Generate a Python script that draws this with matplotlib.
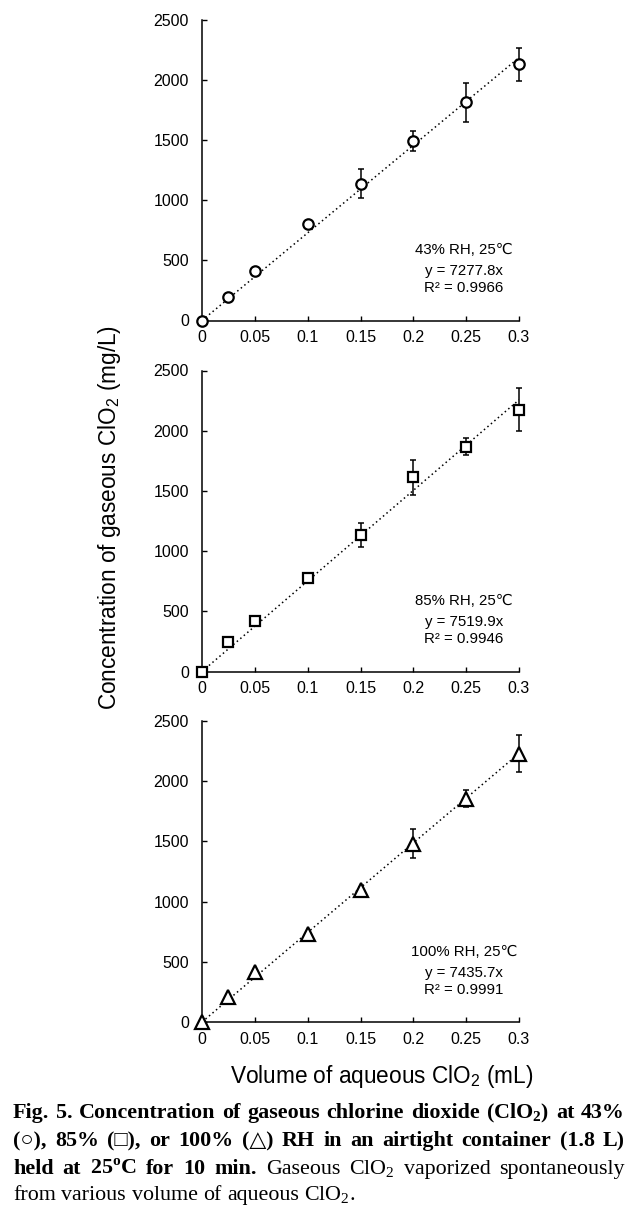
# -*- coding: utf-8 -*-
# Concentración de ClO2 gaseoso vs volumen de ClO2 acuoso (tres humedades)
import numpy as np
import matplotlib
matplotlib.use("Agg")
import matplotlib.pyplot as plt

# Datos
vol = [0, 0.025, 0.05, 0.1, 0.15, 0.2, 0.25, 0.3]
conc_43 = [0, 195, 408, 800, 1135, 1490, 1812, 2128]
err_43 = [0, 10, 25, 15, 120, 80, 160, 135]
conc_85 = [0, 246, 418, 775, 1134, 1614, 1868, 2175]
err_85 = [0, 10, 15, 25, 100, 145, 72, 178]
conc_100 = [0, 208, 416, 729, 1097, 1480, 1856, 2228]
err_100 = [0, 10, 15, 20, 25, 120, 70, 152]

pendientes = [7277.8, 7519.9, 7435.7]
r2 = ["0.9966", "0.9946", "0.9991"]
humedad = ["43%", "85%", "100%"]
marcadores = ["o", "s", "^"]
tam_marcador = [7.5, 7.2, 9.5]

x_ticks = [0, 0.05, 0.1, 0.15, 0.2, 0.25, 0.3]
x_etiquetas = ["0", "0.05", "0.1", "0.15", "0.2", "0.25", "0.3"]
y_ticks = [0, 500, 1000, 1500, 2000, 2500]

series = [(conc_43, err_43), (conc_85, err_85), (conc_100, err_100)]

W, H = 633, 1210
fig = plt.figure(figsize=(W / 100, H / 100), dpi=100)

sans = ["Liberation Sans", "DejaVu Sans"]
serif = ["Liberation Serif", "DejaVu Sans"]

# Posición de los ejes en píxeles
izq, der = 202, 519
base_y = [320.5, 671.5, 1022]
alto = 301

for i, (conc, err) in enumerate(series):
    ax = fig.add_axes([izq / W, 1 - base_y[i] / H, (der - izq) / W, alto / H])
    xs = np.array([vol[0], vol[-1]])
    ax.plot(xs, pendientes[i] * xs, linestyle=(0, (1, 2)), color="black", lw=1.1, zorder=2)
    ax.errorbar(vol, conc, yerr=err, fmt="none", ecolor="black", elinewidth=1.1,
                capsize=2.2, capthick=1.1, zorder=3, clip_on=False)
    ax.plot(vol, conc, linestyle="none", marker=marcadores[i], ms=tam_marcador[i],
            mfc="white", mec="black", mew=1.6, zorder=4, clip_on=False)

    ax.set_xlim(0, 0.3)
    ax.set_ylim(0, 2500)
    ax.set_xticks(x_ticks)
    ax.set_xticklabels(x_etiquetas, fontfamily=sans)
    ax.set_yticks(y_ticks)
    ax.set_yticklabels([str(v) for v in y_ticks], fontfamily=sans)
    ax.tick_params(axis="both", direction="in", length=3.5, width=1, labelsize=11.5)
    ax.tick_params(axis="x", pad=7)
    ax.tick_params(axis="y", pad=9.5)
    ax.spines["top"].set_visible(False)
    ax.spines["right"].set_visible(False)
    for s in ["left", "bottom"]:
        ax.spines[s].set_linewidth(1.1)
    ax.patch.set_alpha(0)

    ax.text(0.826, 0.233, humedad[i] + " RH, 25\u2103", transform=ax.transAxes,
            ha="center", va="center", fontsize=10.8, family=sans)
    ax.text(0.826, 0.163, "y = " + str(pendientes[i]) + "x", transform=ax.transAxes,
            ha="center", va="center", fontsize=10.8, family=sans)
    ax.text(0.826, 0.107, "R\u00b2 = " + r2[i], transform=ax.transAxes,
            ha="center", va="center", fontsize=10.8, family=sans)

fig.text(110 / W, 1 - 517 / H, "Concentration of gaseous ClO$_\\mathregular{2}$ (mg/L)",
         rotation=90, ha="center", va="center", fontsize=16.3, family=sans)
fig.text(382 / W, 1 - 1076 / H, "Volume of aqueous ClO$_\\mathregular{2}$ (mL)",
         ha="center", va="center", fontsize=16.3, family=sans)

# Pie de figura justificado
lineas = [
    [("Fig. 5. Concentration of gaseous chlorine dioxide (ClO$_\\mathregular{2}$) at 43%", "bold")],
    [("(\u25cb), 85% (\u25a1), or 100% (\u25b3) RH in an airtight container (1.8 L)", "bold")],
    [("held at 25$^\\mathregular{o}$C for 10 min.", "bold"),
     ("Gaseous ClO$_\\mathregular{2}$ vaporized spontaneously", "normal")],
    [("from various volume of aqueous ClO$_\\mathregular{2}$.", "normal")],
]
base_lineas = [1118, 1146, 1174, 1200]
x0, x1 = 13, 625
fs = 15.8

fig.canvas.draw()
renderer = fig.canvas.get_renderer()

def ancho(txt, peso):
    t = fig.text(0, 0, txt, fontsize=fs, fontweight=peso, family=serif)
    w = t.get_window_extent(renderer).width
    t.remove()
    return w

espacio = ancho("a a", "normal") - ancho("aa", "normal")

for k, segs in enumerate(lineas):
    palabras = []
    for txt, peso in segs:
        for p in txt.split(" "):
            palabras.append((p, peso, ancho(p, peso)))
    total = sum(p[2] for p in palabras)
    if k < len(lineas) - 1:
        hueco = (x1 - x0 - total) / (len(palabras) - 1)
    else:
        hueco = espacio
    x = x0
    for p, peso, w in palabras:
        fig.text(x / W, 1 - base_lineas[k] / H, p, fontsize=fs, fontweight=peso,
                 family=serif, ha="left", va="baseline")
        x += w + hueco

fig.savefig("out.png", dpi=100)
